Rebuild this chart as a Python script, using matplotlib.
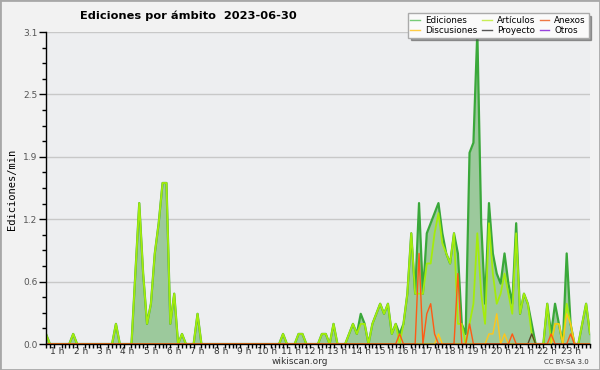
import numpy as np
import matplotlib
matplotlib.use("Agg")
import matplotlib.pyplot as plt
from matplotlib.lines import Line2D
from matplotlib.patches import Rectangle

# Edits per minute, one value per 10-minute slot (141 slots)
ediciones = [
    0.1, 0, 0, 0, 0, 0, 0, 0.1, 0, 0, 0, 0,
    0, 0, 0, 0, 0, 0, 0.2, 0, 0, 0, 0, 0.7,
    1.4, 0.7, 0.2, 0.4, 0.9, 1.2, 1.6, 1.6, 0.2, 0.5, 0, 0.1,
    0, 0, 0, 0.3, 0, 0, 0, 0, 0, 0, 0, 0,
    0, 0, 0, 0, 0, 0, 0, 0, 0, 0, 0, 0,
    0, 0.1, 0, 0, 0, 0.1, 0.1, 0, 0, 0, 0, 0.1,
    0.1, 0, 0.2, 0, 0, 0, 0.1, 0.2, 0.1, 0.3, 0.2, 0,
    0.2, 0.3, 0.4, 0.3, 0.4, 0.1, 0.2, 0.1, 0.2, 0.5, 1.1, 0.5,
    1.4, 0.5, 1.1, 1.2, 1.3, 1.4, 1.1, 0.9, 0.8, 1.1, 0.9, 0.2,
    0.1, 1.9, 2.0, 3.1, 1.2, 0.4, 1.4, 0.9, 0.7, 0.6, 0.9, 0.6,
    0.4, 1.2, 0.3, 0.5, 0.4, 0.2, 0, 0, 0, 0.4, 0.1, 0.4,
    0.2, 0, 0.9, 0.2, 0, 0, 0.2, 0.4, 0.1,
]
articulos = [
    0.1, 0, 0, 0, 0, 0, 0, 0.1, 0, 0, 0, 0,
    0, 0, 0, 0, 0, 0, 0.2, 0, 0, 0, 0, 0.7,
    1.4, 0.7, 0.2, 0.4, 0.9, 1.2, 1.6, 1.6, 0.2, 0.5, 0, 0.1,
    0, 0, 0, 0.3, 0, 0, 0, 0, 0, 0, 0, 0,
    0, 0, 0, 0, 0, 0, 0, 0, 0, 0, 0, 0,
    0, 0.1, 0, 0, 0, 0.1, 0.1, 0, 0, 0, 0, 0.1,
    0.1, 0, 0.2, 0, 0, 0, 0.1, 0.2, 0.1, 0.2, 0.2, 0,
    0.2, 0.3, 0.4, 0.3, 0.4, 0.1, 0.2, 0, 0.2, 0.5, 1.1, 0.5,
    0.5, 0.5, 0.8, 0.8, 1.1, 1.3, 1.0, 0.9, 0.8, 1.1, 0.2, 0.2,
    0, 0.2, 0.4, 1.1, 0.5, 0.2, 1.2, 0.7, 0.4, 0.5, 0.7, 0.5,
    0.3, 1.1, 0.3, 0.5, 0.4, 0.1, 0, 0, 0, 0.4, 0, 0.2,
    0.2, 0, 0.4, 0.2, 0, 0, 0.2, 0.4, 0.1,
]
anexos = [
    0, 0, 0, 0, 0, 0, 0, 0, 0, 0, 0, 0,
    0, 0, 0, 0, 0, 0, 0, 0, 0, 0, 0, 0,
    0, 0, 0, 0, 0, 0, 0, 0, 0, 0, 0, 0,
    0, 0, 0, 0, 0, 0, 0, 0, 0, 0, 0, 0,
    0, 0, 0, 0, 0, 0, 0, 0, 0, 0, 0, 0,
    0, 0, 0, 0, 0, 0, 0, 0, 0, 0, 0, 0,
    0, 0, 0, 0, 0, 0, 0, 0, 0, 0, 0, 0,
    0, 0, 0, 0, 0, 0, 0, 0.1, 0, 0, 0, 0,
    0.9, 0, 0.3, 0.4, 0.1, 0, 0, 0, 0, 0, 0.7, 0,
    0, 0.2, 0, 0, 0, 0, 0, 0, 0, 0, 0, 0,
    0.1, 0, 0, 0, 0, 0, 0, 0, 0, 0, 0.1, 0,
    0, 0, 0, 0.1, 0, 0, 0, 0, 0,
]
discusiones = [
    0, 0, 0, 0, 0, 0, 0, 0, 0, 0, 0, 0,
    0, 0, 0, 0, 0, 0, 0, 0, 0, 0, 0, 0,
    0, 0, 0, 0, 0, 0, 0, 0, 0, 0, 0, 0,
    0, 0, 0, 0, 0, 0, 0, 0, 0, 0, 0, 0,
    0, 0, 0, 0, 0, 0, 0, 0, 0, 0, 0, 0,
    0, 0, 0, 0, 0, 0, 0, 0, 0, 0, 0, 0,
    0, 0, 0, 0, 0, 0, 0, 0, 0, 0, 0, 0,
    0, 0, 0, 0, 0, 0, 0, 0, 0, 0, 0, 0,
    0, 0, 0, 0, 0, 0.1, 0, 0, 0, 0, 0, 0,
    0, 0, 0, 0, 0, 0, 0.1, 0.1, 0.3, 0, 0.1, 0,
    0, 0, 0, 0, 0, 0, 0, 0, 0, 0, 0, 0.2,
    0.2, 0, 0.3, 0.2, 0, 0, 0, 0, 0,
]
proyecto = [0] * 125 + [0.1] + [0] * 15
otros = [0] * 141

hour_labels = ["%d h" % h for h in range(1, 24)]
yticks = [0, 0.62, 1.24, 1.86, 2.48, 3.1]
ytick_labels = ["0.0", "0.6", "1.2", "1.9", "2.5", "3.1"]

x = np.arange(len(ediciones))

fig = plt.figure(figsize=(6, 3.7), dpi=100)
fig.patch.set_facecolor("#f2f2f2")
fig.add_artist(Rectangle((0, 0), 1, 1, transform=fig.transFigure, fill=False,
                         edgecolor="#a8a8a8", lw=2))
ax = fig.add_axes([46 / 600, 26 / 370, 544 / 600, 312 / 370])
ax.set_facecolor("#edeef0")

ax.fill_between(x, ediciones, color="#9cc99c", lw=0, zorder=1)
ax.plot(x, ediciones, color="#3aa83a", lw=1.6, zorder=2)
ax.plot(x, articulos, color="#a4ec0c", lw=1.3, zorder=3)
ax.plot(x, otros, color="#9933ee", lw=1, zorder=3)
ax.plot(x, proyecto, color="#5a4a2a", lw=1, zorder=4)
ax.plot(x, discusiones, color="#ffc61a", lw=1, zorder=4)
ax.plot(x, anexos, color="#ff5a14", lw=1, zorder=5)

ax.set_xlim(0, 140)
ax.set_ylim(0, 3.1)
for s in ["top", "right"]:
    ax.spines[s].set_visible(False)
for s in ["left", "bottom"]:
    ax.spines[s].set_zorder(6)
    ax.spines[s].set_linewidth(1)

ax.set_yticks(yticks)
ax.set_yticklabels(ytick_labels, fontsize=6.5, color="#555555")
ax.set_yticks(np.arange(0, 3.11, 0.155), minor=True)
ax.tick_params(axis="y", which="major", length=5, width=1, pad=1)
ax.tick_params(axis="y", which="minor", length=3, width=1)
ax.grid(axis="y", which="major", color="#c8c8c8", lw=1)
ax.set_axisbelow(True)

ax.set_xticks([6 * h - 3 for h in range(1, 24)])
ax.set_xticklabels(hour_labels, fontsize=6.5, color="#333333")
ax.set_xticks(np.arange(0, 141, 1), minor=True)
ax.tick_params(axis="x", which="major", length=0, pad=2.5)
ax.tick_params(axis="x", which="minor", length=3, width=1)

fig.text(188 / 600, 1 - 16 / 370, "Ediciones por ámbito  2023-06-30",
         ha="center", va="center", fontsize=8.2, fontweight="bold")
fig.text(12 / 600, 1 - 189 / 370, "Ediciones/min", rotation=90,
         ha="center", va="center", fontsize=7.5, family="DejaVu Sans Mono")
fig.text(300 / 600, 1 - 362 / 370, "wikiscan.org", ha="center", va="center",
         fontsize=6.5, color="#333333")
fig.text(589 / 600, 1 - 362 / 370, "CC BY-SA 3.0", ha="right", va="center",
         fontsize=5, color="#333333")

handles = [
    Line2D([], [], color="#77cc77", lw=1),
    Line2D([], [], color="#ffcc44", lw=1),
    Line2D([], [], color="#c8ee55", lw=1),
    Line2D([], [], color="#555555", lw=1),
    Line2D([], [], color="#ee7744", lw=1),
    Line2D([], [], color="#9944dd", lw=1),
]
labels = ["Ediciones", "Discusiones", "Artículos", "Proyecto", "Anexos", "Otros"]
leg = fig.legend(handles, labels, ncol=3, loc="upper right",
                 bbox_to_anchor=(593 / 600, 1 - 9 / 370), fontsize=6.3,
                 handlelength=1.1, handletextpad=0.6, columnspacing=0.5,
                 labelspacing=0.1, borderpad=0.3, fancybox=False, shadow=True,
                 framealpha=1, edgecolor="#aaaaaa", facecolor="#fafafa")

fig.savefig("out.png", dpi=100, facecolor=fig.get_facecolor())
